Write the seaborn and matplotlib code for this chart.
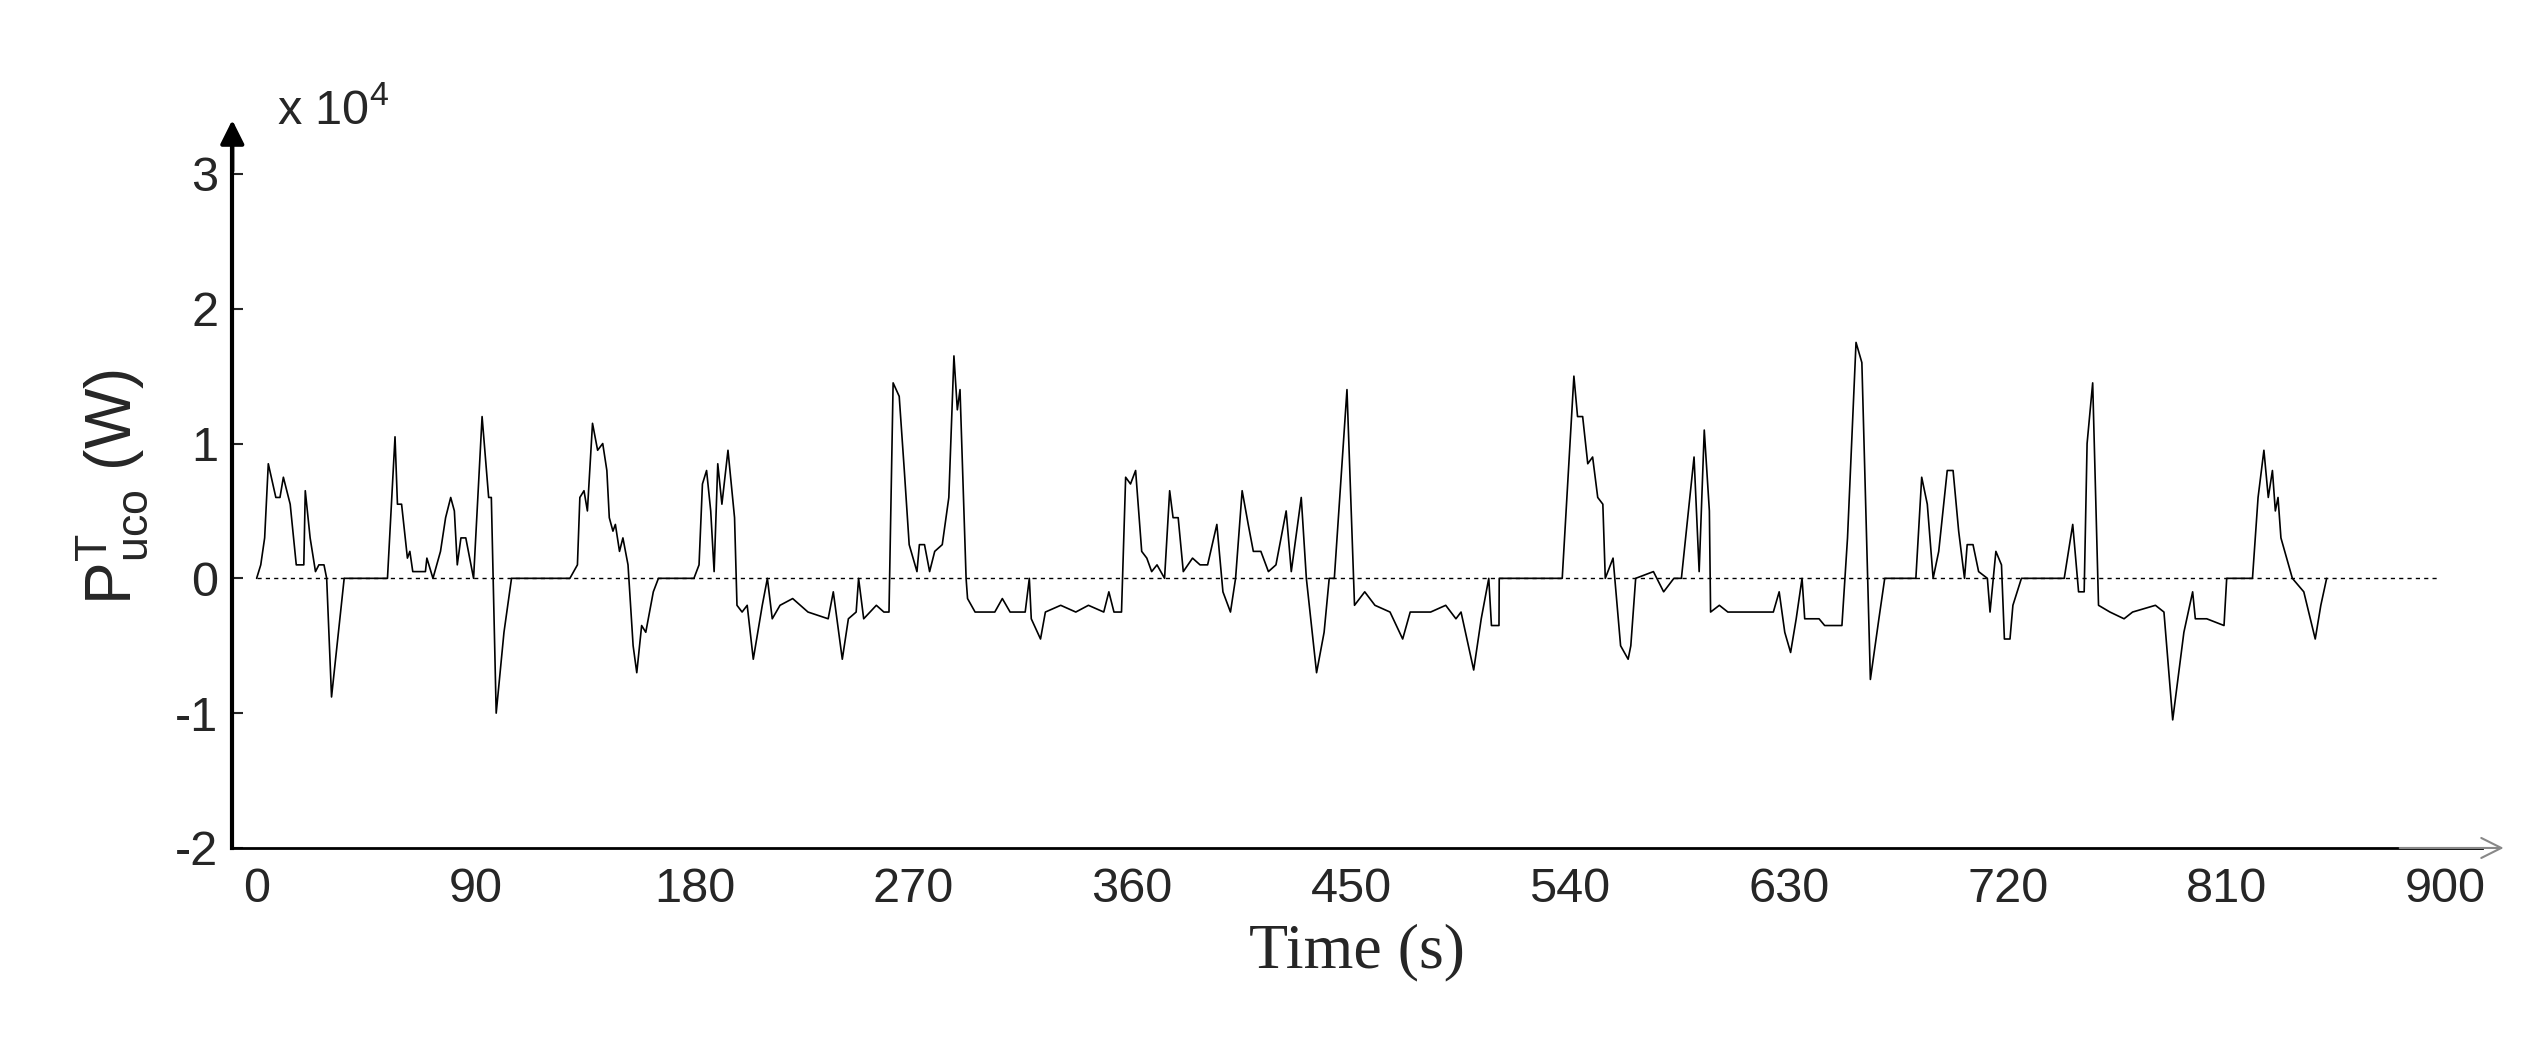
import matplotlib
matplotlib.use("Agg")
import matplotlib.pyplot as plt
import seaborn as sns
import pandas as pd

sns.set_theme(style="white")
plt.rcParams['font.family'] = ['Liberation Sans', 'DejaVu Sans']

# time (s) and power (x 1e4 W)
time = [0, 1.7, 3.3, 4.8, 7.9, 9.6, 11, 13.8, 16.3, 19.4, 20, 22, 24.2, 25.6, 27.7, 28.8, 30.8, 36, 53.8,
        56.9, 57.9, 59.6, 62, 63, 64.2, 69.4, 70, 72.5, 75.6, 77.7, 79.8, 81.3, 82.5, 84, 86, 89.2, 92.7,
        95.4, 96.5, 98.5, 101.7, 104.8, 128.8, 131.9, 132.9, 134.6, 136, 138.1, 140.2, 142.3, 144, 145,
        146.5, 147.5, 149.2, 150.6, 152.7, 154.8, 156.3, 158.3, 160, 163.1, 165.2, 179.8, 181.9, 183.3,
        185, 186.7, 188.1, 189.6, 191.3, 193.8, 196.5, 197.5, 199.6, 201.7, 204.2, 207.9, 210, 212, 215.2,
        220.4, 226.7, 235, 237.1, 240.8, 243.3, 246.5, 247.5, 249.6, 254.8, 257.9, 260, 261.7, 264.2, 266.3,
        268.3, 271.5, 272.5, 274.6, 276.7, 278.8, 281.9, 284.6, 286.7, 288.1, 289.2, 291.7, 292.3, 295.4,
        299.6, 303.5, 306.6, 309.8, 316, 317.7, 318.5, 322.3, 324.3, 330.6, 336.8, 342, 348.3, 350.4, 352.5,
        355.6, 357.3, 359.3, 361.4, 363.9, 366, 368, 370.2, 373.3, 375.4, 376.8, 378.9, 381, 384.8, 387.9,
        391, 394.8, 397.3, 400.4, 402.5, 405.2, 407.7, 409.8, 412.9, 416, 419.1, 423.3, 425.4, 429.5, 431.6,
        435.8, 438.9, 441, 443.1, 448.3, 451.4, 455.6, 459.8, 466, 471.2, 474.3, 482.7, 488.9, 493.1, 495.2,
        500.4, 503.5, 506.6, 507.7, 510.8, 510.9, 536.8, 541.6, 543.1, 545.2, 547.3, 549.3, 551.4, 553.5,
        554.5, 557.7, 560.8, 563.9, 565, 567, 574.3, 578.5, 582.7, 585.8, 591, 593.1, 595.2, 597.3, 597.8,
        601.4, 604.9, 609.6, 616.6, 623.6, 626, 628.3, 630.7, 633, 635.4, 636.5, 642.4, 644.7, 651.8, 654.1,
        657.6, 660, 663.5, 667, 669.4, 682.2, 684.6, 686.9, 689.3, 691.6, 695.1, 697.5, 699.8, 702.2, 703.3,
        705.7, 708, 711.6, 712.7, 715.1, 717.4, 718.6, 720.9, 722.1, 725.6, 743.2, 746.7, 749.1, 751.4,
        752.6, 754.9, 757.3, 762, 767.8, 771.3, 780.7, 784.2, 787.8, 792.4, 796, 797.1, 801.8, 808.9, 810,
        820.6, 822.9, 825.3, 827.1, 828.8, 830, 831.1, 832.3, 837, 841.7, 846.4, 848.7, 851.1]
power = [0, 0.1, 0.3, 0.85, 0.6, 0.6, 0.75, 0.55, 0.1, 0.1, 0.65, 0.3, 0.05, 0.1, 0.1, 0, -0.88, 0, 0,
         1.05, 0.55, 0.55, 0.15, 0.2, 0.05, 0.05, 0.15, 0, 0.2, 0.45, 0.6, 0.5, 0.1, 0.3, 0.3, 0, 1.2,
         0.6, 0.6, -1.0, -0.4, 0, 0, 0.1, 0.6, 0.65, 0.5, 1.15, 0.95, 1.0, 0.8, 0.45,
         0.35, 0.4, 0.2, 0.3, 0.1, -0.5, -0.7, -0.35, -0.4, -0.1, 0, 0, 0.1, 0.7,
         0.8, 0.5, 0.05, 0.85, 0.55, 0.95, 0.45, -0.2, -0.25, -0.2, -0.6, -0.2, 0, -0.3, -0.2,
         -0.15, -0.25, -0.3, -0.1, -0.6, -0.3, -0.25, 0, -0.3, -0.2, -0.25, -0.25, 1.45, 1.35, 0.8,
         0.25, 0.05, 0.25, 0.25, 0.05, 0.2, 0.25, 0.6, 1.65, 1.25, 1.4, 0, -0.15, -0.25,
         -0.25, -0.25, -0.15, -0.25, -0.25, 0, -0.3, -0.45, -0.25, -0.2, -0.25, -0.2, -0.25, -0.1, -0.25,
         -0.25, 0.75, 0.7, 0.8, 0.2, 0.15, 0.05, 0.1, 0, 0.65, 0.45, 0.45, 0.05, 0.15, 0.1,
         0.1, 0.4, -0.1, -0.25, 0, 0.65, 0.4, 0.2, 0.2, 0.05, 0.1, 0.5, 0.05, 0.6, 0,
         -0.7, -0.4, 0, 0, 1.4, -0.2, -0.1, -0.2, -0.25, -0.45, -0.25, -0.25, -0.2, -0.3, -0.25,
         -0.68, -0.3, 0, -0.35, -0.35, 0, 0, 1.5, 1.2, 1.2, 0.85, 0.9, 0.6, 0.55,
         0, 0.15, -0.5, -0.6, -0.5, 0, 0.05, -0.1, 0, 0, 0.9, 0.05, 1.1, 0.5, -0.25,
         -0.2, -0.25, -0.25, -0.25, -0.25, -0.1, -0.4, -0.55, -0.3, 0, -0.3, -0.3, -0.35, -0.35, 0.3,
         1.75, 1.6, -0.75, -0.3, 0, 0, 0.75, 0.55, 0, 0.2, 0.8, 0.8, 0.35, 0, 0.25,
         0.25, 0.05, 0, -0.25, 0.2, 0.1, -0.45, -0.45, -0.2, 0, 0, 0.4, -0.1, -0.1,
         1.0, 1.45, -0.2, -0.25, -0.3, -0.25, -0.2, -0.25, -1.05, -0.4, -0.1, -0.3, -0.3, -0.35, 0,
         0, 0.6, 0.95, 0.6, 0.8, 0.5, 0.6, 0.3, 0, -0.1, -0.45, -0.2, 0]
x_ticks = [0, 90, 180, 270, 360, 450, 540, 630, 720, 810, 900]
y_ticks = [-2, -1, 0, 1, 2, 3]

df = pd.DataFrame({"t": time, "p": power})

fig = plt.figure(figsize=(25.25, 10.56), dpi=100)
ax = fig.add_axes([0.092, 0.197, 0.891, 0.683])
sns.lineplot(data=df, x="t", y="p", ax=ax, color="black", lw=1.2, estimator=None, sort=False)
ax.plot([0, 897], [0, 0], ls=(0, (3, 3)), color="black", lw=1.0)

ax.set_xlim(-10, 915)
ax.set_ylim(-2, 3.35)
ax.set_xticks(x_ticks)
ax.set_xticklabels([str(v) for v in x_ticks], fontsize=35)
ax.set_yticks(y_ticks)
ax.set_yticklabels([str(v) for v in y_ticks], fontsize=35)
ax.tick_params(axis="x", length=0, pad=14)
ax.tick_params(axis="y", direction="in", length=8, width=1.5, left=True, pad=10)
for s in ["top", "right"]:
    ax.spines[s].set_visible(False)
ax.spines["left"].set_linewidth(3)
ax.spines["left"].set_color("black")
ax.spines["bottom"].set_linewidth(2)
ax.spines["bottom"].set_color("black")
ax.set_xlabel("Time (s)", fontsize=46, family=["Liberation Serif"], labelpad=8)
ax.set_ylabel(r"$\mathregular{P^{T}_{uco}}$ (W)", fontsize=46, labelpad=18)

# arrows
ax.annotate("", xy=(-10, 3.42), xytext=(-10, 3.0), xycoords="data",
            arrowprops=dict(arrowstyle="-|>,head_width=0.6,head_length=1.2", color="black", lw=3),
            annotation_clip=False)
ax.annotate("", xy=(925, -2), xytext=(880, -2),
            arrowprops=dict(arrowstyle="->,head_width=0.6,head_length=1.2", color="#888888", lw=1.5),
            annotation_clip=False)
ax.text(0.02, 0.99, r"x 10$^{\mathregular{4}}$", transform=ax.transAxes, fontsize=35,
        ha="left", va="bottom")

fig.savefig("out.png", dpi=100)
